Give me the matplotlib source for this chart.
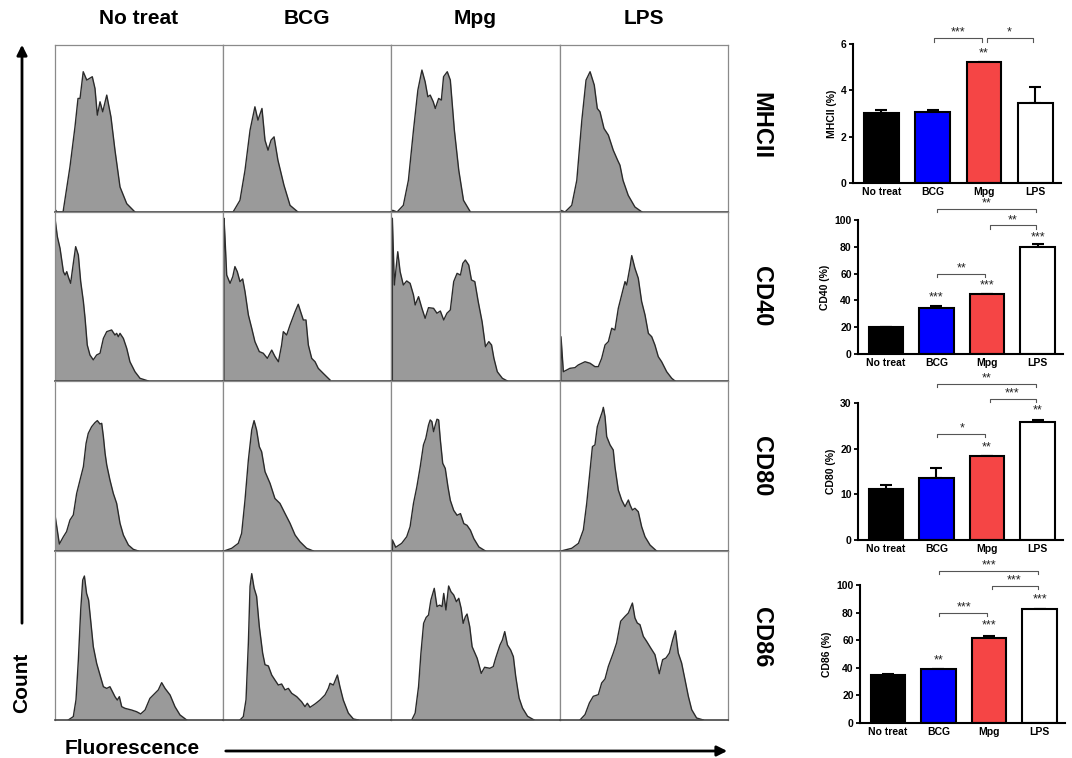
import numpy as np
import matplotlib
matplotlib.use('Agg')
import matplotlib.pyplot as plt

plt.rcParams['font.family'] = ['Liberation Sans', 'DejaVu Sans']

groups = ['No treat', 'BCG', 'Mpg', 'LPS']
markers = ['MHCII', 'CD40', 'CD80', 'CD86']

# ---- flow histograms (fluorescence 0-100, count 0-100 of panel) ----
MHCII_no_x = [0, 0.3, 1.2, 4.8, 8.9, 11.9, 13.7, 14.9, 16.8, 18.9, 22.2, 23.8, 25.2, 26.8, 28.4, 30.8, 33.3, 35.7, 38.7, 42.7, 47.6]
MHCII_no_y = [0, 1.2, 0, 0, 27, 51, 68, 68, 84, 79, 81, 74, 58, 66, 60, 70, 57, 37, 15, 5, 0]
MHCII_bcg_x = [0.5, 6.0, 10.1, 13.1, 16.1, 19.0, 20.8, 23.2, 25.0, 26.8, 28.6, 30.4, 32.7, 36.3, 39.9, 44.6]
MHCII_bcg_y = [0, 0, 7, 25, 49, 63, 55, 62, 43, 37, 43, 45, 31, 16, 4, 0]
MHCII_mpg_x = [0, 1, 3.6, 7.3, 10.3, 13.3, 15.9, 18.3, 20.2, 21.8, 23.2, 25, 26.2, 28.2, 29.8, 31.1, 33.3, 35.1, 37.5, 40.1, 42.9, 47]
MHCII_mpg_y = [0, 1, 0, 4, 19, 49, 73, 85, 78, 69, 70, 66, 62, 68, 67, 81, 84, 79, 49, 25, 7, 0]
MHCII_lps_x = [0, 0.5, 3, 7, 10, 13, 15.5, 17.9, 20.4, 22.2, 23.8, 26.2, 28.8, 31.7, 34.3, 35.7, 37.5, 40.6, 44.6, 48.8]
MHCII_lps_y = [0, 1, 0, 4, 19, 55, 79, 84, 76, 62, 60, 50, 46, 37, 31, 28, 19, 10, 3, 0]

CD40_no_x = [0, 0, 1.4, 3.0, 5.0, 6.0, 7.0, 7.9, 9.3, 10.9, 12.3, 13.9, 15.3, 16.9, 17.9, 19.2, 20.8, 22.8, 24.8, 26.8, 28.8,
             30.8, 33.7, 35.7, 36.7, 37.7, 38.7, 40.7, 42.7, 44.6, 47.6, 50.6, 55.6]
CD40_no_y = [0, 96.3, 85.4, 78.5, 64.7, 62.7, 64.7, 61.7, 57.8, 69.6, 79.5, 74.5, 58.8, 47, 37.1, 21.3, 15.4, 12.5, 15.4, 16.4, 25.2,
             29.2, 30.2, 27.2, 28.2, 26.2, 28.2, 25.2, 19.3, 11.4, 5.5, 1.6, 0]
CD40_bcg_x = [0.6, 0.6, 1.2, 2.2, 4.2, 5.8, 7.1, 8.5, 10.1, 11.7, 13.1, 15.1, 17.1, 19.0, 21.6, 24.0, 26.4, 29.0, 31.0, 33.0, 34.9,
              35.9, 37.9, 39.9, 42.9, 44.8, 46.2, 47.8, 49.4, 50.8, 52.8, 54.8, 56.7, 59.7, 63.7]
CD40_bcg_y = [0, 96.3, 84.5, 62.7, 57.8, 61.7, 67.7, 64.7, 58.8, 60.4, 52.9, 39.1, 31.2, 23.3, 17.4, 16.4, 13.4, 18.3, 14.4, 11.4, 21.3,
              29.2, 27.2, 33.1, 41, 45.4, 41, 36.1, 36.1, 21.3, 13.4, 11.4, 7.5, 4.5, 0.6]
CD40_mpg_x = [0.8, 0.8, 2.0, 4.0, 5.4, 7.3, 9.3, 11.3, 13.3, 14.3, 16.3, 18.3, 20.2, 22.2, 25.2, 27.2, 29.2, 31.2, 33.1, 35.1, 37.1,
              39.1, 41.1, 42.5, 44.0, 46.0, 47.6, 49.6, 51.6, 53.9, 55.9, 57.9, 59.5, 60.9, 62.9, 65.9, 68.9]
CD40_mpg_y = [0, 96.3, 56.8, 76.5, 64.7, 56.8, 59.2, 57.8, 50.9, 45, 49.9, 43, 37.1, 43.4, 43, 40.1, 41.4, 36.1, 40.1, 42, 58.8,
              63.7, 62.7, 69.6, 71.6, 68.6, 59.8, 58.8, 47, 35.1, 20.3, 23.3, 21.3, 13.4, 5.5, 1.6, 0]
CD40_lps_x = [0.6, 0.6, 2.0, 4.0, 5.9, 8.9, 10.9, 14.9, 17.9, 20.8, 22.8, 24.8, 26.8, 28.8, 30.8, 32.7, 34.7, 36.7, 38.7, 39.7, 41.7,
              42.7, 44.6, 46.6, 48.6, 50.6, 52.6, 54.6, 56.5, 58.5, 60.5, 63.5, 66.5, 68.5]
CD40_lps_y = [0, 26.2, 5.5, 6.5, 7.5, 7.9, 9.5, 11.4, 10.5, 8.5, 8.5, 13.4, 21.3, 23.3, 31.2, 30.2, 43, 50.9, 58.8, 56.8, 67.7,
              74.2, 66.7, 60.8, 47, 39.1, 28.2, 26.2, 21.3, 14.4, 11.4, 5.5, 1.6, 0]

CD80_no_x = [0, 0, 2.6, 5.0, 6.9, 8.9, 10.9, 12.9, 14.9, 16.9, 18.5, 19.8, 21.8, 23.8, 25.2, 26.8, 27.8, 28.8, 29.8, 30.8, 32.7,
             34.7, 36.7, 38.7, 40.7, 43.7, 46.6, 49.6]
CD80_no_y = [0, 21.2, 4.1, 8.4, 11.4, 18.2, 21.2, 33.9, 41.8, 49.6, 63.3, 69.2, 73.1, 75.5, 76.7, 74.7, 75.1, 67.3, 57.5, 50.6, 41.8,
             33.9, 28.0, 16.3, 9.4, 3.5, 1.0, 0]
CD80_bcg_x = [0.6, 5.2, 9.1, 11.1, 13.1, 15.1, 17.1, 18.5, 20.0, 21.6, 23.0, 25.0, 28.0, 30.9, 33.9, 36.9, 39.9, 42.9, 45.8, 49.8, 53.8]
CD80_bcg_y = [0, 1.6, 4.5, 10.4, 30.0, 53.5, 71.2, 76.7, 71.2, 61.4, 58.4, 46.7, 39.8, 30.9, 28.0, 22.1, 16.3, 9.4, 5.5, 1.6, 0]
CD80_mpg_x = [0.8, 0.8, 2.8, 6.3, 9.3, 11.3, 13.3, 15.3, 17.3, 19.2, 20.6, 22.2, 23.2, 24.2, 25.2, 26.2, 27.2, 28.2, 29.2, 30.6,
              32.1, 33.7, 35.1, 37.1, 39.1, 41.1, 43.1, 45.0, 47.0, 49.0, 52.0, 55.9]
CD80_mpg_y = [0, 6.5, 2.2, 4.5, 8.4, 14.3, 28.0, 37.8, 49.6, 62.4, 66.3, 74.1, 77.1, 76.1, 70.2, 74.1, 77.5, 77.1, 65.3, 51.6,
              48.6, 37.8, 29.8, 23.9, 21.0, 22.0, 16.1, 15.1, 12.2, 7.3, 2.4, 0]
CD80_lps_x = [0.6, 7.0, 11.0, 13.9, 15.9, 17.9, 19.3, 20.8, 22.2, 23.8, 25.2, 25.8, 26.8, 27.8, 29.8, 31.7, 32.7, 34.7, 36.7, 38.7,
              40.7, 41.7, 43.1, 44.6, 46.6, 48.6, 50.6, 53.6, 57.5]
CD80_lps_y = [0, 1.6, 4.5, 12.4, 28.0, 47.6, 61.4, 62.4, 73.1, 78.0, 82.0, 84.5, 79.0, 67.3, 62.4, 59.4, 49.6, 35.9, 30.0, 26.1,
              30.0, 27.1, 24.1, 25.1, 23.1, 14.3, 8.4, 3.5, 0]

CD86_no_x = [7.9, 10.9, 12.5, 13.9, 15.3, 16.5, 17.5, 18.8, 20.0, 21.2, 22.8, 24.8, 26.8, 28.8, 30.8, 32.7, 34.7, 35.7, 37.1, 38.3,
             39.7, 41.7, 45.6, 48.6, 51.0, 53.6, 56.5, 59.5, 61.5, 63.5, 65.5, 68.5, 71.4, 74.4, 78.4]
CD86_no_y = [0, 2.0, 12.0, 35.5, 65.1, 82.8, 85.2, 74.9, 71.0, 59.2, 43.4, 33.5, 26.6, 19.7, 18.7, 19.7, 15.8, 13.8, 11.8, 13.8,
             7.9, 6.9, 5.9, 4.9, 3.6, 5.9, 12.8, 15.8, 17.8, 22.1, 18.7, 14.8, 7.9, 3.0, 0]
CD86_bcg_x = [10.1, 12.1, 13.7, 15.1, 16.1, 17.1, 18.5, 20.0, 21.6, 23.6, 25.0, 27.0, 29.0, 30.9, 32.9, 34.9, 36.9, 38.9, 40.9,
              43.9, 46.8, 48.8, 50.2, 51.8, 54.8, 57.7, 60.7, 62.7, 63.7, 65.7, 68.1, 69.6, 71.6, 74.6, 77.6, 80.6]
CD86_bcg_y = [0, 2.0, 12.0, 45.6, 79.1, 86.6, 78.1, 73.2, 55.4, 39.6, 32.7, 32.0, 26.6, 23.7, 20.7, 21.3, 17.8, 18.7, 15.8,
              13.8, 10.8, 7.9, 9.9, 7.5, 9.5, 11.8, 14.8, 18.7, 21.7, 20.7, 26.6, 19.7, 11.8, 4.1, 0.6, 0]
CD86_mpg_x = [12.3, 14.3, 16.3, 17.7, 19.3, 20.8, 22.2, 23.6, 25.6, 27.2, 28.8, 30.2, 31.2, 32.5, 34.1, 35.5, 37.1, 38.7, 40.1,
              41.5, 42.7, 44.0, 45.0, 46.6, 48.0, 51.0, 53.4, 55.4, 58.5, 60.5, 61.9, 64.5, 65.9, 67.3, 68.9, 70.8, 72.4,
              73.8, 75.8, 77.8, 80.8, 84.7]
CD86_mpg_y = [0, 4.1, 19.7, 39.4, 57.2, 60.7, 62.1, 71.0, 77.9, 67.1, 68.0, 67.1, 74.9, 65.1, 79.3, 75.9, 74.0, 70.0, 72.0,
              66.1, 57.2, 61.1, 62.7, 55.2, 43.4, 36.5, 27.6, 31.2, 30.6, 31.6, 36.5, 44.4, 47.3, 52.3, 44.4, 41.4, 37.5,
              25.8, 13.0, 7.1, 2.2, 0]
CD86_lps_x = [11.9, 14.9, 17.5, 19.8, 22.8, 24.8, 26.8, 28.8, 31.7, 33.7, 36.1, 38.7, 40.7, 43.1, 44.6, 46.0, 47.6, 49.6, 51.6,
              54.0, 56.5, 59.1, 61.1, 63.1, 65.1, 67.1, 68.7, 70.4, 72.4, 74.4, 76.4, 78.4, 81.3, 85.3]
CD86_lps_y = [0, 3.2, 10.1, 14.0, 15.0, 21.9, 24.3, 31.8, 39.6, 45.6, 58.4, 61.3, 63.3, 69.2, 60.4, 57.4, 56.4, 49.5, 46.5,
              42.6, 38.7, 27.4, 35.7, 36.7, 39.6, 47.5, 52.8, 39.6, 33.7, 23.9, 14.0, 6.1, 1.2, 0]

hist_x = [[MHCII_no_x, MHCII_bcg_x, MHCII_mpg_x, MHCII_lps_x],
          [CD40_no_x, CD40_bcg_x, CD40_mpg_x, CD40_lps_x],
          [CD80_no_x, CD80_bcg_x, CD80_mpg_x, CD80_lps_x],
          [CD86_no_x, CD86_bcg_x, CD86_mpg_x, CD86_lps_x]]
hist_y = [[MHCII_no_y, MHCII_bcg_y, MHCII_mpg_y, MHCII_lps_y],
          [CD40_no_y, CD40_bcg_y, CD40_mpg_y, CD40_lps_y],
          [CD80_no_y, CD80_bcg_y, CD80_mpg_y, CD80_lps_y],
          [CD86_no_y, CD86_bcg_y, CD86_mpg_y, CD86_lps_y]]

# ---- bar charts: % positive cells, mean and SEM ----
mhcii_mean = [3.03, 3.07, 5.21, 3.44]
mhcii_err = [0.14, 0.08, 0.02, 0.69]
cd40_mean = [19.8, 34.5, 44.8, 79.5]
cd40_err = [0.4, 1.0, 0.3, 2.7]
cd80_mean = [11.2, 13.5, 18.4, 25.8]
cd80_err = [0.9, 2.2, 0.1, 0.5]
cd86_mean = [34.6, 38.8, 61.7, 82.6]
cd86_err = [0.8, 0.6, 1.5, 0.3]

# stars over single bars (group, label, y) and brackets (from, to, label, y)
mhcii_stars = [(2, '**', 5.6)]
mhcii_brackets = [(1, 2, '***', 6.25), (2, 3, '*', 6.25)]
cd40_stars = [(1, '***', 42.0), (2, '***', 51.0), (3, '***', 87.0)]
cd40_brackets = [(1, 2, '**', 60), (2, 3, '**', 96), (1, 3, '**', 108.3)]
cd80_stars = [(2, '**', 20.3), (3, '**', 28.3)]
cd80_brackets = [(1, 2, '*', 23.2), (2, 3, '***', 30.9), (1, 3, '**', 34.2)]
cd86_stars = [(1, '**', 45.0), (2, '***', 70.5), (3, '***', 89.8)]
cd86_brackets = [(1, 2, '***', 79.9), (2, 3, '***', 99.5), (1, 3, '***', 110.4)]

bar_colors = ['black', '#0000ff', '#f54545', 'white']

W, H = 1072, 758
fig = plt.figure(figsize=(W / 100, H / 100), dpi=100)


def px_axes(left, top, right, bottom):
    return fig.add_axes([left / W, 1 - bottom / H, (right - left) / W, (bottom - top) / H])


col_edges = [55, 223, 391, 560, 728]
row_edges = [45, 212, 381, 551, 720]

for r in range(4):
    for c in range(4):
        ax = px_axes(col_edges[c], row_edges[r], col_edges[c + 1], row_edges[r + 1])
        x = hist_x[r][c]
        y = hist_y[r][c]
        ax.fill_between(x, y, 0, color='#9a9a9a', lw=0)
        ax.plot(x, y, color='#2a2a2a', lw=1.0)
        ax.set_xlim(0, 100)
        ax.set_ylim(0, 100)
        ax.set_xticks([])
        ax.set_yticks([])
        for s in ax.spines.values():
            s.set_color('#8a8a8a')
            s.set_linewidth(0.9)
        ax.spines['bottom'].set_color('#444444')
        ax.spines['bottom'].set_linewidth(1.2)

for c in range(4):
    xc = (col_edges[c] + col_edges[c + 1]) / 2
    fig.text(xc / W, 1 - 18 / H, groups[c], ha='center', va='center',
             fontsize=15, fontweight='bold')

row_label_y = [126, 296, 466, 637]
for r in range(4):
    fig.text(761 / W, 1 - row_label_y[r] / H, markers[r], ha='center', va='center',
             fontsize=17, fontweight='bold', rotation=-90)

fig.text(22 / W, 1 - 683 / H, 'Count', ha='center', va='center', rotation=90,
         fontsize=15, fontweight='bold')
fig.text(132 / W, 1 - 749 / H, 'Fluorescence', ha='center', va='center',
         fontsize=15, fontweight='bold')
fig.patches.append(matplotlib.patches.FancyArrowPatch(
    (22 / W, 1 - 626 / H), (22 / W, 1 - 42 / H), transform=fig.transFigure,
    arrowstyle='-|>,head_length=6,head_width=3', color='black', lw=2))
fig.patches.append(matplotlib.patches.FancyArrowPatch(
    (223 / W, 1 - 751 / H), (730 / W, 1 - 751 / H), transform=fig.transFigure,
    arrowstyle='-|>,head_length=6,head_width=3', color='black', lw=2))

bar_specs = [
    ((853, 44, 1061, 183), mhcii_mean, mhcii_err, 6, [0, 2, 4, 6], 'MHCII (%)', mhcii_stars, mhcii_brackets),
    ((858, 220, 1063, 354), cd40_mean, cd40_err, 100, [0, 20, 40, 60, 80, 100], 'CD40 (%)', cd40_stars, cd40_brackets),
    ((858, 403, 1063, 540), cd80_mean, cd80_err, 30, [0, 10, 20, 30], 'CD80 (%)', cd80_stars, cd80_brackets),
    ((860, 585, 1065, 723), cd86_mean, cd86_err, 100, [0, 20, 40, 60, 80, 100], 'CD86 (%)', cd86_stars, cd86_brackets),
]

for box, mean, err, ymax, yt, ylab, stars, brackets in bar_specs:
    ax = px_axes(*box)
    pos = np.arange(4)
    ax.errorbar(pos, mean, yerr=[np.zeros(4), err], fmt='none', ecolor='black',
                elinewidth=1.5, capsize=4, capthick=1.5, zorder=1)
    ax.bar(pos, mean, width=0.68, color=bar_colors, edgecolor='black', linewidth=1.5, zorder=2)
    ax.set_xlim(-0.55, 3.5)
    ax.set_ylim(0, ymax)
    ax.set_yticks(yt)
    ax.set_xticks(pos)
    ax.set_xticklabels(groups, fontsize=7.5, fontweight='bold')
    ax.tick_params(axis='x', length=0, pad=3)
    ax.tick_params(axis='y', length=3, width=1.3, labelsize=7.5, pad=1.5)
    for lab in ax.get_yticklabels():
        lab.set_fontweight('bold')
    ax.set_ylabel(ylab, fontsize=7.5, fontweight='bold', labelpad=3)
    for s in ['top', 'right']:
        ax.spines[s].set_visible(False)
    for s in ['left', 'bottom']:
        ax.spines[s].set_linewidth(1.5)
    tick = 0.025 * ymax
    for g, lab, y in stars:
        ax.text(g, y, lab, ha='center', va='center', fontsize=9, color='#222222', clip_on=False)
    for g1, g2, lab, y in brackets:
        xa, xb = g1 + 0.02, g2 - 0.04
        if g1 == 2:
            xa = g1 + 0.06
        ax.plot([xa, xa, xb, xb], [y - tick, y, y, y - tick], color='#555555', lw=0.8,
                clip_on=False)
        ax.text((g1 + g2) / 2, y + 0.04 * ymax, lab, ha='center', va='center', fontsize=9,
                color='#222222', clip_on=False)

fig.savefig('out.png', dpi=100)
